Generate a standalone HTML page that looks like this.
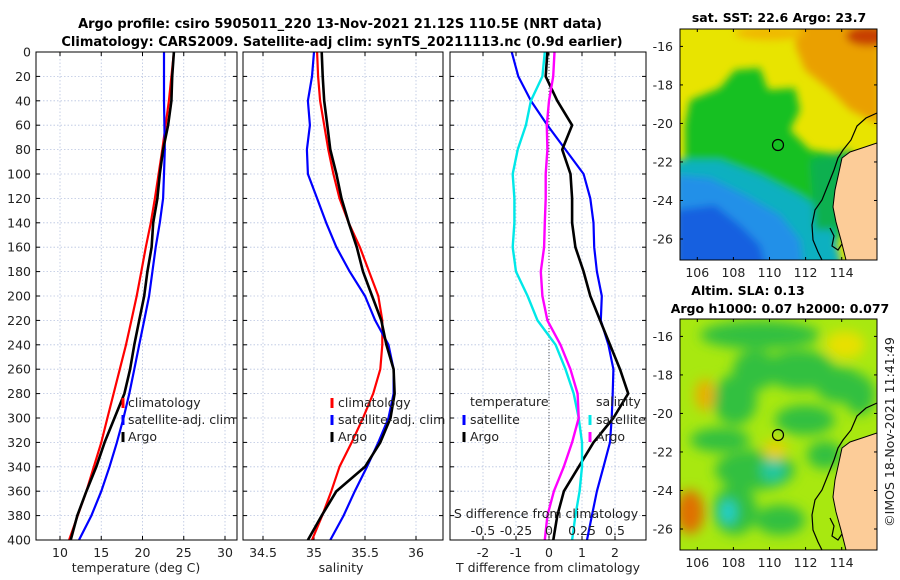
<!DOCTYPE html>
<html><head><meta charset="utf-8">
<style>
html,body{margin:0;padding:0;background:#fff;}
svg{display:block;font-family:"DejaVu Sans","Liberation Sans",sans-serif;}
</style></head>
<body>
<svg id="fig" width="900" height="580" viewBox="0 0 900 580" xmlns="http://www.w3.org/2000/svg">
<defs>
<filter id="blur6" x="-20%" y="-20%" width="140%" height="140%"><feGaussianBlur stdDeviation="6"/></filter>
<filter id="blur4" x="-20%" y="-20%" width="140%" height="140%"><feGaussianBlur stdDeviation="4"/></filter>
<clipPath id="clipM1"><rect x="680" y="29" width="197" height="231"/></clipPath>
<clipPath id="clipM2"><rect x="680" y="319" width="197" height="231"/></clipPath>
<clipPath id="clipP1"><rect x="36" y="52" width="201" height="488"/></clipPath>
<clipPath id="clipP2"><rect x="243" y="52" width="200" height="488"/></clipPath>
<clipPath id="clipP3"><rect x="450" y="52" width="196" height="488"/></clipPath>
</defs>
<text x="340" y="28" font-size="13" font-weight="bold" text-anchor="middle">Argo profile: csiro 5905011_220 13-Nov-2021 21.12S 110.5E (NRT data)</text>
<text x="342" y="46" font-size="13" font-weight="bold" text-anchor="middle">Climatology: CARS2009. Satellite-adj clim: synTS_20211113.nc (0.9d earlier)</text>
<g id="plots"></g>
<g id="maps"></g>
<text transform="translate(894,432) rotate(-90)" font-size="12.5" text-anchor="middle" fill="#222">©IMOS 18-Nov-2021 11:41:49</text>
</svg>
<script>
// ---------- data ----------
const depths = [0,20,40,60,80,100,120,140,160,180,200,220,240,260,280,300,320,340,360,380,400];
const tempClim = [23.8,23.5,23.2,22.8,22.4,21.95,21.5,21.0,20.4,19.85,19.3,18.65,18.0,17.25,16.5,15.75,15.0,14.1,13.2,12.15,11.1];
const tempSat  = [22.6,22.6,22.6,22.65,22.7,22.6,22.5,22.1,21.6,21.2,20.8,20.2,19.6,19.0,18.4,17.7,16.9,16.0,15.0,13.8,12.3];
const tempArgo = [23.8,23.6,23.5,23.1,22.5,22.1,21.8,21.3,21.1,20.6,20.2,19.6,19.0,18.5,17.8,16.6,15.4,14.4,13.2,12.1,11.3];
const salClim = [35.03,35.04,35.06,35.1,35.14,35.19,35.25,35.34,35.45,35.54,35.63,35.67,35.67,35.65,35.58,35.48,35.37,35.25,35.17,35.08,34.98];
const salSat  = [35.0,34.98,34.94,34.96,34.93,34.94,35.03,35.12,35.22,35.35,35.5,35.6,35.73,35.78,35.78,35.73,35.63,35.52,35.4,35.29,35.16];
const salArgo = [35.075,35.085,35.1,35.13,35.16,35.22,35.27,35.34,35.42,35.48,35.57,35.66,35.71,35.78,35.79,35.75,35.65,35.5,35.22,35.075,34.94];
const dTsat  = [-1.13,-0.93,-0.55,-0.05,0.5,1.05,1.25,1.35,1.37,1.45,1.6,1.57,1.8,1.95,1.93,1.9,1.85,1.65,1.45,1.3,1.15];
const dTargo = [-0.05,-0.1,0.25,0.7,0.4,0.65,0.7,0.7,0.8,1.05,1.25,1.55,1.85,2.15,2.4,1.95,1.35,0.9,0.45,0.25,0.13];
const dSsat  = [-0.032,-0.05,-0.137,-0.175,-0.237,-0.275,-0.262,-0.262,-0.275,-0.25,-0.162,-0.087,0.05,0.125,0.187,0.225,0.25,0.25,0.232,0.2,0.175];
const dSargo = [0.042,0.032,0.0,-0.017,-0.012,-0.025,-0.025,-0.032,-0.037,-0.062,-0.05,-0.012,0.087,0.162,0.217,0.225,0.175,0.112,0.037,-0.012,-0.032];
const depthTicks = [0,20,40,60,80,100,120,140,160,180,200,220,240,260,280,300,320,340,360,380,400];
const tempTicks = [10,15,20,25,30];
const salTicks = [34.5,35,35.5,36];
const salTickLabels = ["34.5","35","35.5","36"];
const dTTicks = [-2,-1,0,1,2];
const dSTicks = [-0.5,-0.25,0,0.25,0.5];
const dSTickLabels = ["-0.5","-0.25","0","0.25","0.5"];
const latTicks = [-16,-18,-20,-22,-24,-26];
const lonTicks = [106,108,110,112,114];

const NS="http://www.w3.org/2000/svg";
const plots=document.getElementById('plots');
const maps=document.getElementById('maps');
function mk(tag,attrs,parent,text){const e=document.createElementNS(NS,tag);for(const k in attrs)e.setAttribute(k,attrs[k]);if(text!==undefined)e.textContent=text;(parent||plots).appendChild(e);return e;}

const TOP=52,BOT=540;
const yD=d=>TOP+(d/400)*(BOT-TOP);
function lin(d0,d1,r0,r1){return v=>r0+(v-d0)/(d1-d0)*(r1-r0);}
const xT=lin(10,30,60,225);
const xS=lin(35,36,314,416);
const xDT=lin(0,2,549,615);
const xDS=v=>xDT(v*4);

function panel(name,L,R,ticks,xf){
  const g=mk('g',{});
  ticks.forEach(t=>{const x=xf(t);const l=mk('line',{x1:x,x2:x,y1:TOP,y2:BOT,stroke:'#b8c4e0','stroke-width':0.8,'stroke-dasharray':'1.5,2'},g);});
  depthTicks.forEach(d=>{const y=yD(d);const l=mk('line',{x1:L,x2:R,y1:y,y2:y,stroke:'#b8c4e0','stroke-width':0.8,'stroke-dasharray':'1.5,2'},g);
    mk('line',{x1:L,x2:L+4,y1:y,y2:y,stroke:'#000'},g);mk('line',{x1:R-4,x2:R,y1:y,y2:y,stroke:'#000'},g);});
  ticks.forEach(t=>{const x=xf(t);mk('line',{x1:x,x2:x,y1:TOP,y2:TOP+4,stroke:'#000'},g);mk('line',{x1:x,x2:x,y1:BOT-4,y2:BOT,stroke:'#000'},g);});
  return g;
}
function series(g,name,xs,xf,color,w,clip){
  const pts=depths.map((d,i)=>xf(xs[i]).toFixed(1)+','+yD(d).toFixed(1)).join(' ');
  const p=mk('polyline',{points:pts,fill:'none',stroke:color,'stroke-width':w,'stroke-linejoin':'round','clip-path':'url(#'+clip+')'},g);
  
  
}
function frame(g,L,R){const r=mk('rect',{x:L,y:TOP,width:R-L,height:BOT-TOP,fill:'none',stroke:'#000','stroke-width':1},g);}
function txt(g,name,x,y,s,size,anchor,color){const t=mk('text',{x:x,y:y,'font-size':size||12.5,'text-anchor':anchor||'start',fill:color||'#222'},g,s);return t;}
function legMark(g,x,y,color){const l=mk('line',{x1:x,x2:x,y1:y-10,y2:y,stroke:color,'stroke-width':3},g);}

// Panel 1
const g1=panel('temperature-panel',36,237,tempTicks,xT);
series(g1,'temp-climatology-line',tempClim,xT,'#ff0000',2.2,'clipP1');
series(g1,'temp-satellite-line',tempSat,xT,'#0000ff',2.2,'clipP1');
series(g1,'temp-argo-line',tempArgo,xT,'#000000',2.6,'clipP1');
frame(g1,36,237);
depthTicks.forEach(d=>txt(g1,'depth-tick-label',31,yD(d)+4.5,String(d),12.5,'end'));
tempTicks.forEach(t=>txt(g1,'temp-tick-label',xT(t),557,String(t),12.5,'middle'));
txt(g1,'x-axis-title-temperature',136,572,'temperature (deg C)',12.5,'middle');
legMark(g1,123,408,'#ff0000');txt(g1,'legend-climatology',128,407,'climatology');
legMark(g1,123,425,'#0000ff');txt(g1,'legend-satellite-adj',128,424,'satellite-adj. clim');
legMark(g1,123,442,'#000');txt(g1,'legend-argo',128,441,'Argo');

// Panel 2
const g2=panel('salinity-panel',243,443,salTicks,xS);
series(g2,'sal-climatology-line',salClim,xS,'#ff0000',2.2,'clipP2');
series(g2,'sal-satellite-line',salSat,xS,'#0000ff',2.2,'clipP2');
series(g2,'sal-argo-line',salArgo,xS,'#000000',2.6,'clipP2');
frame(g2,243,443);
salTicks.forEach((t,i)=>txt(g2,'sal-tick-label',xS(t),557,salTickLabels[i],12.5,'middle'));
txt(g2,'x-axis-title-salinity',341,572,'salinity',12.5,'middle');
legMark(g2,332,408,'#ff0000');txt(g2,'legend-climatology',338,407,'climatology');
legMark(g2,332,425,'#0000ff');txt(g2,'legend-satellite-adj',338,424,'satellite-adj. clim');
legMark(g2,332,442,'#000');txt(g2,'legend-argo',338,441,'Argo');

// Panel 3
const g3=panel('difference-panel',450,646,dTTicks,xDT);
const z=mk('line',{x1:xDT(0),x2:xDT(0),y1:TOP,y2:BOT,stroke:'#555','stroke-width':1,'stroke-dasharray':'1,2'},g3);

series(g3,'dT-satellite-line',dTsat,xDT,'#0000ff',2.2,'clipP3');
series(g3,'dT-argo-line',dTargo,xDT,'#000000',2.6,'clipP3');
series(g3,'dS-satellite-line',dSsat,xDS,'#00e8e8',2.4,'clipP3');
series(g3,'dS-argo-line',dSargo,xDS,'#ff00ff',2.4,'clipP3');
frame(g3,450,646);
txt(g3,'legend-title-temperature',470,406,'temperature');
legMark(g3,464,425,'#0000ff');txt(g3,'legend-t-satellite',470,424,'satellite');
legMark(g3,464,442,'#000');txt(g3,'legend-t-argo',470,441,'Argo');
txt(g3,'legend-title-salinity',596,406,'salinity');
legMark(g3,590,425,'#00e8e8');txt(g3,'legend-s-satellite',596,424,'satellite');
legMark(g3,590,442,'#ff00ff');txt(g3,'legend-s-argo',596,441,'Argo');
txt(g3,'s-axis-title',546,518,'S difference from climatology',12.5,'middle');
dSTicks.forEach((t,i)=>txt(g3,'s-tick-label',xDS(t),535,dSTickLabels[i],12.5,'middle'));
dTTicks.forEach(t=>txt(g3,'t-tick-label',xDT(t),557,String(t),12.5,'middle'));
txt(g3,'x-axis-title-tdiff',548,572,'T difference from climatology',12.5,'middle');

// ---------- maps ----------
const ML=680,MR=877;
const xLon=lin(106,114,697.3,841.7);
function mapAxes(g,top,name){
  const yLat=lin(-16,-26,top+17.4,top+210);
  const r=mk('rect',{x:ML,y:top,width:MR-ML,height:231,fill:'none',stroke:'#000','stroke-width':1},g);
  
  latTicks.forEach(l=>{const y=yLat(l);mk('line',{x1:ML,x2:ML+3,y1:y,y2:y,stroke:'#000'},g);mk('line',{x1:MR-3,x2:MR,y1:y,y2:y,stroke:'#000'},g);
    txt(g,'lat-tick-label',673,y+4.5,String(l),12.5,'end');});
  lonTicks.forEach(l=>{const x=xLon(l);mk('line',{x1:x,x2:x,y1:top+231-3,y2:top+231,stroke:'#000'},g);mk('line',{x1:x,x2:x,y1:top,y2:top+3,stroke:'#000'},g);
    txt(g,'lon-tick-label',x,top+248,String(l),12.5,'middle');});
}
function land(g,top,clip){
  const o=top-29;
  const p=mk('path',{d:`M877,${143+o} L862,${148+o} L850,${152+o} L842,${158+o} L839,${172+o} L835,${190+o} L833,${207+o} L836,${222+o} L841,${240+o} L846,${260+o} L877,${260+o} Z`,fill:'#fccc98',stroke:'#000','stroke-width':1,'clip-path':'url(#'+clip+')'},g);
  
  const c=mk('path',{d:`M877,${113+o} L866,${118+o} L857,${126+o} L851,${140+o} L843,${150+o} L838,${158+o} L834,${170+o} L828,${185+o} L822,${200+o} L815,${210+o} L812,${225+o} L813,${240+o} L818,${252+o} L822,${260+o}`,fill:'none',stroke:'#000','stroke-width':1.2,'clip-path':'url(#'+clip+')'},g);
  
  const c2=mk('path',{d:`M830,${228+o} L834,${236+o} L832,${246+o} L838,${250+o} L842,${244+o}`,fill:'none',stroke:'#000','stroke-width':1.2,'clip-path':'url(#'+clip+')'},g);
  
}
// Map 1 SST
const m1=mk('g',{},maps);
txt(m1,'sst-map-title',779,22,'sat. SST: 22.6 Argo: 23.7',12.5,'middle','#000').setAttribute('font-weight','bold');
const b1=mk('g',{'clip-path':'url(#clipM1)'},m1);
mk('rect',{x:680,y:29,width:197,height:231,fill:'#e8e400'},b1);
const f1=mk('g',{filter:'url(#blur4)'},b1);
mk('path',{d:'M800,20 L880,20 L880,125 L850,110 L830,90 L805,70 L795,45 Z',fill:'#eaa000'},f1);
mk('ellipse',{cx:868,cy:36,rx:22,ry:10,fill:'#c84000'},f1);
mk('ellipse',{cx:770,cy:33,rx:35,ry:7,fill:'#f0b800'},f1);
mk('path',{d:'M685,125 L690,100 L720,88 L735,70 L760,68 L768,90 L795,88 L800,110 L790,130 L810,150 L845,155 L860,175 L840,240 L790,250 L730,230 L685,180 Z',fill:'#18c020'},f1);
mk('path',{d:'M675,160 L720,160 L760,175 L800,195 L830,215 L845,280 L675,280 Z',fill:'#10b0c0'},f1);
mk('path',{d:'M675,175 L710,178 L745,195 L780,215 L800,240 L805,280 L675,280 Z',fill:'#2090e8'},f1);
mk('path',{d:'M675,210 L715,205 L740,225 L760,245 L770,280 L675,280 Z',fill:'#1860e0'},f1);
mk('path',{d:'M810,160 L850,150 L860,170 L840,230 L815,230 Z',fill:'#10b050'},f1);
land(m1,29,'clipM1');
const a1=mk('circle',{cx:778,cy:145,r:5.5,fill:'none',stroke:'#000','stroke-width':1.2},m1);

mapAxes(m1,29,'sst-map');

// Map 2 SLA
const m2=mk('g',{},maps);
txt(m2,'sla-map-title',748,295,'Altim. SLA: 0.13',12.5,'middle','#000').setAttribute('font-weight','bold');
txt(m2,'argo-height-title',780,313,'Argo h1000: 0.07 h2000: 0.077',12.5,'middle','#000').setAttribute('font-weight','bold');
const b2=mk('g',{'clip-path':'url(#clipM2)'},m2);
mk('rect',{x:680,y:319,width:197,height:231,fill:'#a8e810'},b2);
const f2=mk('g',{filter:'url(#blur6)'},b2);
[[760,335,60,14],[755,370,22,20],[800,370,35,20],[840,385,25,18],[735,400,22,25],[805,420,30,15],[720,440,30,12],[755,470,40,20],[825,455,18,14],[735,510,22,25],[780,520,25,15],[860,395,15,20]].forEach(e=>mk('ellipse',{cx:e[0],cy:e[1],rx:e[2],ry:e[3],fill:'#30c040'},f2));
mk('ellipse',{cx:773,cy:470,rx:12,ry:12,fill:'#20c8a0'},f2);
mk('ellipse',{cx:728,cy:512,rx:8,ry:12,fill:'#20d0d0'},f2);
mk('ellipse',{cx:690,cy:512,rx:14,ry:22,fill:'#e07000'},f2);
mk('ellipse',{cx:705,cy:395,rx:10,ry:16,fill:'#e8b000'},f2);
mk('ellipse',{cx:775,cy:450,rx:12,ry:10,fill:'#e8d000'},f2);
mk('ellipse',{cx:845,cy:345,rx:20,ry:14,fill:'#e8e000'},f2);
land(m2,319,'clipM2');
const a2=mk('circle',{cx:778,cy:435,r:5.5,fill:'none',stroke:'#000','stroke-width':1.2},m2);

mapAxes(m2,319,'sla-map');
</script>
</body></html>
